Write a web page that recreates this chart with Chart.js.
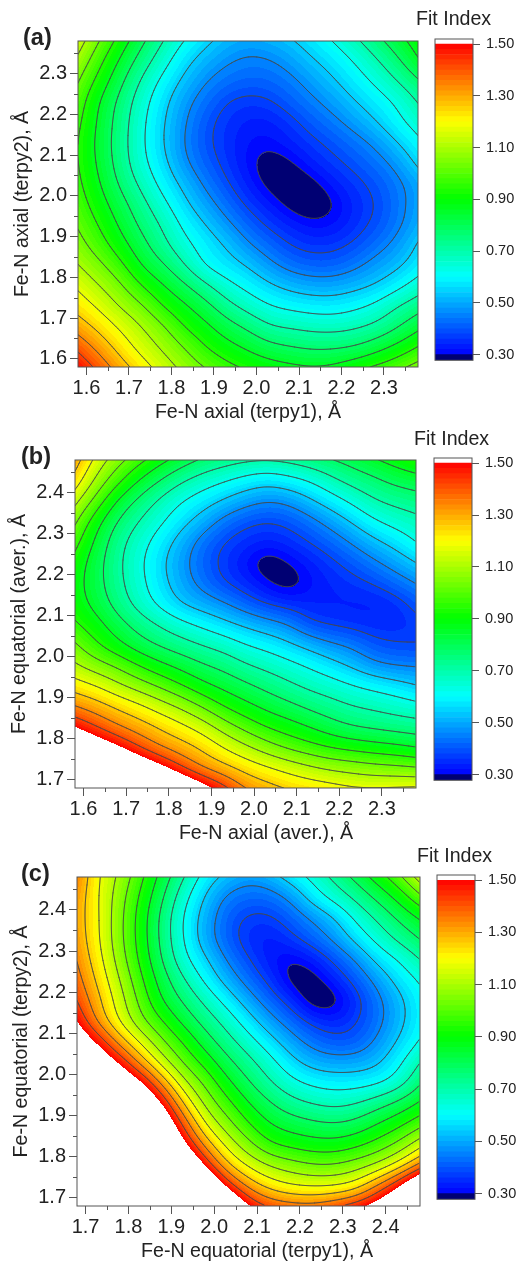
<!DOCTYPE html>
<html>
<head>
<meta charset="utf-8">
<title>Fit Index maps</title>
<script src="https://cdn.jsdelivr.net/npm/chart.js@4"></script>
<style>
    html, body { margin: 0; padding: 0; background: #fff; overflow: hidden; }
    #page { position: relative; width: 517px; height: 1265px; }
    canvas { position: absolute; }
</style>
</head>
<body>
<div id="page"></div>
<script>
// grid positions of the maps, in angstrom
const bondsA = [1.58, 1.63, 1.68, 1.73, 1.78, 1.83, 1.88, 1.93, 1.98, 2.03, 2.08, 2.13, 2.18, 2.23, 2.28, 2.33, 2.38];
const bondsB = [1.68, 1.73, 1.78, 1.83, 1.88, 1.93, 1.98, 2.03, 2.08, 2.13, 2.18, 2.23, 2.28, 2.33, 2.38, 2.43, 2.48];

const ticksLow = [1.6, 1.7, 1.8, 1.9, 2.0, 2.1, 2.2, 2.3];
const ticksHigh = [1.7, 1.8, 1.9, 2.0, 2.1, 2.2, 2.3, 2.4];
const minorLow = [1.65, 1.75, 1.85, 1.95, 2.05, 2.15, 2.25, 2.35];
const minorHigh = [1.75, 1.85, 1.95, 2.05, 2.15, 2.25, 2.35, 2.45];

const barTicks = [0.3, 0.5, 0.7, 0.9, 1.1, 1.3, 1.5];
const barEdges = [0.278, 0.30, 0.32, 0.34, 0.36, 0.38, 0.40, 0.42, 0.44, 0.46, 0.48, 0.50, 0.52, 0.54, 0.56, 0.58, 0.60,
    0.62, 0.64, 0.66, 0.68, 0.70, 0.72, 0.74, 0.76, 0.78, 0.80, 0.82, 0.84, 0.86, 0.88, 0.90, 0.92, 0.94, 0.96, 0.98,
    1.00, 1.02, 1.04, 1.06, 1.08, 1.10, 1.12, 1.14, 1.16, 1.18, 1.20, 1.22, 1.24, 1.26, 1.28, 1.30, 1.32, 1.34, 1.36,
    1.38, 1.40, 1.42, 1.44, 1.46, 1.48, 1.50, 1.52];
const lineLevels = [0.30, 0.38, 0.46, 0.54, 0.62, 0.70, 0.78, 0.86, 0.94, 1.02, 1.10, 1.18, 1.26, 1.34, 1.42];

// fit index, first row is the top of the plot
const fitA = [
    [1.14, 1.02, .905, .795, .70, .615, .555, .51, .49, .505, .53, .575, .62, .68, .75, .825, .90],
    [1.08, .96, .845, .74, .65, .56, .505, .465, .445, .45, .485, .53, .57, .62, .685, .76, .855],
    [1.02, .91, .795, .685, .595, .52, .46, .425, .41, .415, .44, .485, .53, .58, .63, .695, .765],
    [.98, .855, .755, .65, .56, .48, .425, .375, .36, .37, .41, .445, .485, .535, .58, .625, .70],
    [.955, .845, .74, .635, .545, .465, .395, .355, .33, .33, .36, .405, .44, .485, .535, .60, .655],
    [.937, .835, .734, .63, .54, .455, .39, .35, .315, .31, .335, .365, .395, .43, .47, .535, .60],
    [.94, .845, .74, .64, .56, .47, .41, .36, .31, .27, .29, .335, .365, .395, .43, .475, .555],
    [.955, .865, .765, .68, .59, .52, .445, .385, .33, .28, .26, .28, .33, .36, .395, .44, .49],
    [.98, .895, .81, .725, .64, .555, .49, .425, .365, .325, .28, .255, .29, .345, .375, .435, .49],
    [1.01, .935, .845, .76, .69, .60, .54, .475, .415, .365, .335, .31, .315, .35, .39, .44, .50],
    [1.05, .975, .89, .805, .72, .64, .585, .535, .465, .42, .375, .355, .36, .385, .43, .475, .55],
    [1.10, 1.04, .96, .85, .79, .70, .60, .57, .535, .475, .43, .41, .41, .44, .485, .52, .575],
    [1.165, 1.10, 1.035, .935, .865, .795, .715, .64, .595, .55, .515, .495, .495, .515, .54, .59, .655],
    [1.225, 1.165, 1.09, 1.035, .93, .875, .81, .725, .665, .62, .60, .585, .58, .60, .635, .70, .745],
    [1.30, 1.235, 1.165, 1.10, 1.035, .93, .88, .815, .765, .70, .69, .675, .67, .685, .71, .765, .835],
    [1.395, 1.31, 1.225, 1.145, 1.085, 1.02, .935, .885, .845, .80, .78, .765, .765, .775, .82, .875, .94],
    [1.49, 1.39, 1.295, 1.215, 1.14, 1.075, 1.015, .96, .925, .895, .875, .86, .87, .91, .95, .995, 1.05]
];

const fitB = [
    [1.30, 1.15, 1.05, .965, .885, .82, .765, .735, .71, .70, .715, .745, .775, .81, .85, .89, .93],
    [1.23, 1.08, .965, .855, .775, .705, .66, .625, .59, .565, .59, .62, .68, .73, .76, .80, .82],
    [1.12, .99, .845, .755, .68, .62, .575, .53, .485, .455, .47, .525, .58, .635, .695, .72, .74],
    [1.03, .885, .77, .695, .635, .565, .505, .43, .39, .375, .39, .43, .485, .545, .61, .65, .675],
    [.965, .84, .725, .655, .58, .505, .425, .375, .35, .33, .35, .38, .415, .465, .52, .565, .625],
    [.91, .81, .715, .635, .555, .48, .41, .36, .31, .265, .295, .33, .365, .40, .445, .49, .54],
    [.89, .81, .72, .645, .565, .495, .43, .375, .345, .30, .265, .31, .34, .36, .38, .42, .46],
    [.90, .83, .745, .665, .595, .53, .50, .465, .41, .37, .35, .34, .335, .33, .33, .345, .395],
    [.945, .89, .81, .745, .69, .64, .60, .56, .525, .49, .46, .38, .365, .355, .345, .345, .36],
    [1.03, .945, .875, .81, .765, .73, .695, .665, .62, .595, .555, .515, .47, .445, .395, .38, .375],
    [1.105, 1.05, 1.005, .935, .875, .83, .785, .755, .705, .675, .645, .61, .57, .525, .47, .45, .45],
    [1.22, 1.18, 1.115, 1.06, 1.005, .94, .875, .835, .795, .755, .715, .68, .655, .625, .60, .575, .54],
    [1.335, 1.295, 1.245, 1.20, 1.14, 1.085, 1.01, .93, .88, .835, .80, .76, .73, .70, .685, .665, .645],
    [1.49, 1.41, 1.34, 1.295, 1.25, 1.20, 1.145, 1.06, .99, .93, .895, .855, .81, .775, .76, .745, .735],
    [1.70, 1.60, 1.51, 1.41, 1.33, 1.29, 1.245, 1.175, 1.115, 1.055, 1.00, .965, .93, .91, .89, .875, .85],
    [1.95, 1.85, 1.74, 1.63, 1.53, 1.41, 1.32, 1.275, 1.23, 1.19, 1.155, 1.115, 1.085, 1.07, 1.05, 1.04, 1.025],
    [2.2, 2.1, 2.0, 1.9, 1.8, 1.68, 1.55, 1.44, 1.33, 1.29, 1.25, 1.23, 1.21, 1.185, 1.18, 1.185, 1.19]
];

const fitC = [
    [1.34, 1.18, 1.085, .955, .825, .70, .58, .515, .48, .505, .575, .64, .72, .80, .895, .99, 1.14],
    [1.31, 1.18, 1.055, .92, .785, .64, .525, .44, .415, .42, .47, .58, .65, .715, .795, .88, .995],
    [1.30, 1.19, 1.04, .90, .75, .605, .50, .405, .365, .365, .41, .465, .53, .635, .71, .79, .86],
    [1.31, 1.19, 1.04, .90, .75, .61, .49, .405, .345, .325, .365, .415, .475, .565, .645, .72, .785],
    [1.335, 1.21, 1.06, .915, .77, .635, .55, .45, .38, .32, .29, .325, .39, .46, .565, .62, .70],
    [1.37, 1.24, 1.10, .95, .815, .705, .60, .505, .425, .36, .27, .27, .335, .40, .48, .57, .625],
    [1.415, 1.28, 1.135, .99, .85, .765, .68, .59, .495, .415, .35, .255, .265, .35, .435, .515, .595],
    [1.49, 1.31, 1.165, 1.03, .94, .83, .745, .67, .575, .485, .42, .36, .335, .37, .43, .515, .59],
    [1.62, 1.48, 1.30, 1.155, 1.025, .93, .815, .73, .655, .57, .49, .43, .395, .40, .47, .545, .62],
    [1.75, 1.62, 1.49, 1.30, 1.13, 1.00, .91, .80, .725, .65, .56, .505, .49, .495, .52, .60, .70],
    [1.9, 1.78, 1.65, 1.53, 1.31, 1.11, 1.00, .88, .785, .705, .64, .60, .585, .585, .60, .65, .765],
    [2.05, 1.95, 1.8, 1.68, 1.50, 1.24, 1.07, .965, .86, .785, .725, .695, .675, .695, .745, .80, .87],
    [2.2, 2.1, 1.95, 1.82, 1.64, 1.39, 1.165, 1.05, .94, .855, .82, .795, .78, .80, .86, .915, .985],
    [2.35, 2.25, 2.1, 1.98, 1.74, 1.52, 1.30, 1.15, 1.04, .94, .91, .89, .885, .915, .965, 1.03, 1.145],
    [2.5, 2.4, 2.25, 2.12, 1.92, 1.72, 1.47, 1.26, 1.16, 1.09, 1.055, 1.02, 1.02, 1.055, 1.10, 1.195, 1.335],
    [2.6, 2.5, 2.4, 2.3, 2.15, 1.95, 1.72, 1.46, 1.305, 1.22, 1.175, 1.165, 1.165, 1.20, 1.34, 1.49, 1.72],
    [2.7, 2.65, 2.55, 2.45, 2.3, 2.15, 1.95, 1.72, 1.49, 1.40, 1.37, 1.36, 1.40, 1.46, 1.56, 1.72, 1.95]
];

const FONT = '"Liberation Sans", Arial, sans-serif';
const INK = '#222';
const FRAME = '#555';

// rainbow of the colour bar: blue, cyan, green, yellow, red in 0.02 steps
const stopValues = [0.3, 0.6, 0.9, 1.2, 1.5];
const stopColors = [[0, 0, 255], [0, 255, 255], [0, 255, 0], [255, 255, 0], [255, 0, 0]];

function fitColor(v) {
    if (v >= 1.5) return [255, 255, 255];
    if (v < 0.3) return [0, 0, 115];
    const stepped = 0.3 + Math.floor((v - 0.3) / 0.02) * 0.02 + 0.01;
    let i = 0;
    while (i < 3 && stepped > stopValues[i + 1]) i++;
    const t = (stepped - stopValues[i]) / 0.3;
    return stopColors[i].map((c, k) => Math.round(c + (stopColors[i + 1][k] - c) * t));
}

// cubic b-spline weights, keeps the hand read contours from wobbling
function spline(a, b, c, d, t) {
    const u = 1 - t;
    return (u * u * u * a + (3 * t * t * t - 6 * t * t + 4) * b + (-3 * t * t * t + 3 * t * t + 3 * t + 1) * c + t * t * t * d) / 6;
}

// smooth reading of the value table between its nodes
function readGrid(cells, n, fx, fy) {
    const cx = Math.min(Math.floor(fx), n - 2);
    const cy = Math.min(Math.floor(fy), n - 2);
    const at = (r, c) => {
        if (r < 0) return 2 * at(0, c) - at(1, c);
        if (r > n - 1) return 2 * at(n - 1, c) - at(n - 2, c);
        if (c < 0) return 2 * at(r, 0) - at(r, 1);
        if (c > n - 1) return 2 * at(r, n - 1) - at(r, n - 2);
        return cells[r * n + c].v;
    };
    const rows = [];
    for (let r = -1; r <= 2; r++) {
        rows.push(spline(at(cy + r, cx - 1), at(cy + r, cx), at(cy + r, cx + 1), at(cy + r, cx + 2), fx - cx));
    }
    return spline(rows[0], rows[1], rows[2], rows[3], fy - cy);
}

const fitMap = {
    id: 'fitMap',
    beforeDatasetsDraw(chart) {
        const { ctx, chartArea: area, scales } = chart;
        const cells = chart.data.datasets[0].data;
        const n = Math.round(Math.sqrt(cells.length));
        const x0 = cells[0].x, dx = cells[1].x - cells[0].x;
        const y0 = cells[0].y, dy = cells[0].y - cells[n].y;
        const w = Math.round(area.right - area.left), h = Math.round(area.bottom - area.top);

        // value at every pixel, through the chart's scales
        const field = [];
        for (let py = 0; py <= h; py++) {
            const fy = (y0 - scales.y.getValueForPixel(area.top + py)) / dy;
            const row = [];
            for (let px = 0; px <= w; px++) {
                const fx = (scales.x.getValueForPixel(area.left + px) - x0) / dx;
                row.push(readGrid(cells, n, Math.max(0, fx), Math.max(0, fy)));
            }
            field.push(row);
        }

        const off = document.createElement('canvas');
        off.width = w;
        off.height = h;
        const offCtx = off.getContext('2d');
        const img = offCtx.createImageData(w, h);
        for (let py = 0; py < h; py++) {
            for (let px = 0; px < w; px++) {
                const col = fitColor(field[py][px]);
                const k = (py * w + px) * 4;
                img.data[k] = col[0];
                img.data[k + 1] = col[1];
                img.data[k + 2] = col[2];
                img.data[k + 3] = 255;
            }
        }
        offCtx.putImageData(img, 0, 0);
        ctx.drawImage(off, area.left, area.top);

        // contour lines, marching squares over the same field
        ctx.save();
        ctx.beginPath();
        ctx.rect(area.left, area.top, w, h);
        ctx.clip();
        ctx.strokeStyle = 'rgba(70,70,70,0.8)';
        ctx.lineWidth = 1;
        ctx.lineCap = 'round';
        const step = 2;
        lineLevels.forEach(level => {
            ctx.beginPath();
            for (let py = 0; py + step <= h; py += step) {
                for (let px = 0; px + step <= w; px += step) {
                    const a = field[py][px], b = field[py][px + step];
                    const c = field[py + step][px + step], d = field[py + step][px];
                    const pts = [];
                    if ((a < level) !== (b < level)) pts.push([px + step * (level - a) / (b - a), py]);
                    if ((b < level) !== (c < level)) pts.push([px + step, py + step * (level - b) / (c - b)]);
                    if ((d < level) !== (c < level)) pts.push([px + step * (level - d) / (c - d), py + step]);
                    if ((a < level) !== (d < level)) pts.push([px, py + step * (level - a) / (d - a)]);
                    for (let i = 0; i + 1 < pts.length; i += 2) {
                        ctx.moveTo(area.left + pts[i][0], area.top + pts[i][1]);
                        ctx.lineTo(area.left + pts[i + 1][0], area.top + pts[i + 1][1]);
                    }
                }
            }
            ctx.stroke();
        });
        ctx.restore();
    }
};

// frame and the short ticks between the labelled ones
const frameTicks = {
    id: 'frameTicks',
    afterDraw(chart, args, opts) {
        const { ctx, chartArea: area, scales } = chart;
        ctx.save();
        ctx.strokeStyle = FRAME;
        ctx.lineWidth = 1;
        ctx.strokeRect(area.left, area.top, area.right - area.left, area.bottom - area.top);
        ctx.beginPath();
        (opts.minorX || []).forEach(v => {
            const p = Math.round(scales.x.getPixelForValue(v)) + 0.5;
            ctx.moveTo(p, area.bottom);
            ctx.lineTo(p, area.bottom + 4);
        });
        (opts.minorY || []).forEach(v => {
            const p = Math.round(scales.y.getPixelForValue(v)) + 0.5;
            ctx.moveTo(area.left, p);
            ctx.lineTo(area.left - 4, p);
        });
        ctx.stroke();
        ctx.restore();
    }
};

const captions = {
    id: 'captions',
    afterDraw(chart, args, opts) {
        const ctx = chart.ctx;
        ctx.save();
        ctx.fillStyle = INK;
        ctx.textBaseline = 'middle';
        (opts.items || []).forEach(c => {
            ctx.font = c.font;
            ctx.textAlign = c.align || 'left';
            ctx.fillText(c.text, c.x, c.y);
        });
        ctx.restore();
    }
};

function addCanvas(left, top, width, height) {
    const canvas = document.createElement('canvas');
    canvas.width = width;
    canvas.height = height;
    canvas.style.left = left + 'px';
    canvas.style.top = top + 'px';
    canvas.style.width = width + 'px';
    canvas.style.height = height + 'px';
    document.getElementById('page').appendChild(canvas);
    return canvas;
}

function drawMap(p) {
    const cells = [];
    p.fit.forEach((row, r) => row.forEach((v, c) => {
        cells.push({ x: p.xs[c], y: p.ys[p.ys.length - 1 - r], v: v });
    }));

    const tickFont = { family: FONT, size: 20 };
    new Chart(addCanvas(0, p.top, p.left + p.width + 8, p.padTop + p.height + p.bottom), {
        type: 'scatter',
        data: { datasets: [{ data: cells, pointRadius: 0, pointHoverRadius: 0 }] },
        plugins: [fitMap, frameTicks, captions],
        options: {
            responsive: false,
            animation: false,
            events: [],
            layout: { padding: { top: p.padTop, right: 8, left: 0, bottom: 0 } },
            plugins: {
                legend: { display: false },
                tooltip: { enabled: false },
                frameTicks: { minorX: p.minorX, minorY: p.minorY },
                captions: { items: [
                    { text: p.letter, x: p.letterX, y: p.letterY, font: 'bold 23.5px ' + FONT },
                    { text: p.xTitle, x: p.xTitleX, y: p.padTop + p.height + 46, font: '19.6px ' + FONT, align: 'center' }
                ] }
            },
            scales: {
                x: {
                    type: 'linear',
                    min: p.xs[0],
                    max: p.xs[p.xs.length - 1],
                    afterFit: s => { s.height = p.bottom; },
                    afterBuildTicks: s => { s.ticks = p.xTicks.map(v => ({ value: v })); },
                    border: { display: false },
                    grid: { drawOnChartArea: false, tickLength: 8, tickColor: FRAME },
                    ticks: { font: tickFont, color: INK, padding: 1, maxRotation: 0, autoSkip: false,
                        callback: v => v.toFixed(1) }
                },
                y: {
                    type: 'linear',
                    min: p.ys[0],
                    max: p.ys[p.ys.length - 1],
                    afterFit: s => { s.width = p.left; },
                    afterBuildTicks: s => { s.ticks = p.yTicks.map(v => ({ value: v })); },
                    border: { display: false },
                    grid: { drawOnChartArea: false, tickLength: 8, tickColor: FRAME },
                    ticks: { font: tickFont, color: INK, padding: 3, autoSkip: false,
                        callback: v => v.toFixed(1) },
                    title: { display: true, text: p.yTitle, color: INK, font: { family: FONT, size: 19.6 },
                        padding: { top: p.yTitlePad, bottom: 0 } }
                }
            }
        }
    });
}

function drawBar(p) {
    const left = 405;
    const top = p.fitY - 18;
    const datasets = [];
    for (let i = 0; i + 1 < barEdges.length; i++) {
        const col = fitColor((barEdges[i] + barEdges[i + 1]) / 2);
        datasets.push({
            data: [[barEdges[i], barEdges[i + 1]]],
            backgroundColor: 'rgb(' + col.join(',') + ')',
            grouped: false,
            barPercentage: 1,
            categoryPercentage: 1
        });
    }
    new Chart(addCanvas(left, top, 517 - left, p.barBottom + 8 - top), {
        type: 'bar',
        data: { labels: ['Fit Index'], datasets: datasets },
        plugins: [frameTicks, captions],
        options: {
            responsive: false,
            animation: false,
            events: [],
            layout: { padding: { top: p.barTop - top, bottom: 8, left: p.barLeft - left, right: 0 } },
            plugins: {
                legend: { display: false },
                tooltip: { enabled: false },
                captions: { items: [
                    { text: 'Fit Index', x: p.fitX - left, y: p.fitY - top, font: '19.6px ' + FONT }
                ] }
            },
            scales: {
                x: { display: false },
                y: {
                    position: 'right',
                    min: 0.278,
                    max: 1.52,
                    afterFit: s => { s.width = 517 - p.barLeft - 38; },
                    afterBuildTicks: s => { s.ticks = barTicks.map(v => ({ value: v })); },
                    border: { display: false },
                    grid: { drawOnChartArea: false, tickLength: 7, tickColor: FRAME },
                    ticks: { font: { family: FONT, size: 14.5 }, color: INK, padding: 6, autoSkip: false,
                        callback: v => v.toFixed(2) }
                }
            }
        }
    });
}

window.onload = function () {
    const panels = [
        {
            fit: fitA, xs: bondsA, ys: bondsA, xTicks: ticksLow, yTicks: ticksLow, minorX: minorLow, minorY: minorLow,
            top: 0, padTop: 41, left: 78, width: 340, height: 326, bottom: 63,
            letter: '(a)', letterX: 23, letterY: 39,
            xTitle: 'Fe-N axial (terpy1), Å', xTitleX: 248,
            yTitle: 'Fe-N axial (terpy2), Å', yTitlePad: 11,
            barLeft: 435, barTop: 39, barBottom: 367, fitX: 416, fitY: 20
        },
        {
            fit: fitB, xs: bondsA, ys: bondsB, xTicks: ticksLow, yTicks: ticksHigh, minorX: minorLow, minorY: minorHigh,
            top: 430, padTop: 30, left: 75, width: 341, height: 328, bottom: 62,
            letter: '(b)', letterX: 21, letterY: 28,
            xTitle: 'Fe-N axial (aver.), Å', xTitleX: 266,
            yTitle: 'Fe-N equatorial (aver.), Å', yTitlePad: 8,
            barLeft: 434, barTop: 458, barBottom: 787, fitX: 414, fitY: 440
        },
        {
            fit: fitC, xs: bondsB, ys: bondsB, xTicks: ticksHigh, yTicks: ticksHigh, minorX: minorHigh, minorY: minorHigh,
            top: 850, padTop: 27, left: 77, width: 343, height: 329, bottom: 59,
            letter: '(c)', letterX: 21, letterY: 25,
            xTitle: 'Fe-N equatorial (terpy1), Å', xTitleX: 257,
            yTitle: 'Fe-N equatorial (terpy2), Å', yTitlePad: 10,
            barLeft: 437, barTop: 875, barBottom: 1206, fitX: 417, fitY: 857
        }
    ];
    panels.forEach(p => {
        drawMap(p);
        drawBar(p);
    });
};
</script>
</body>
</html>
